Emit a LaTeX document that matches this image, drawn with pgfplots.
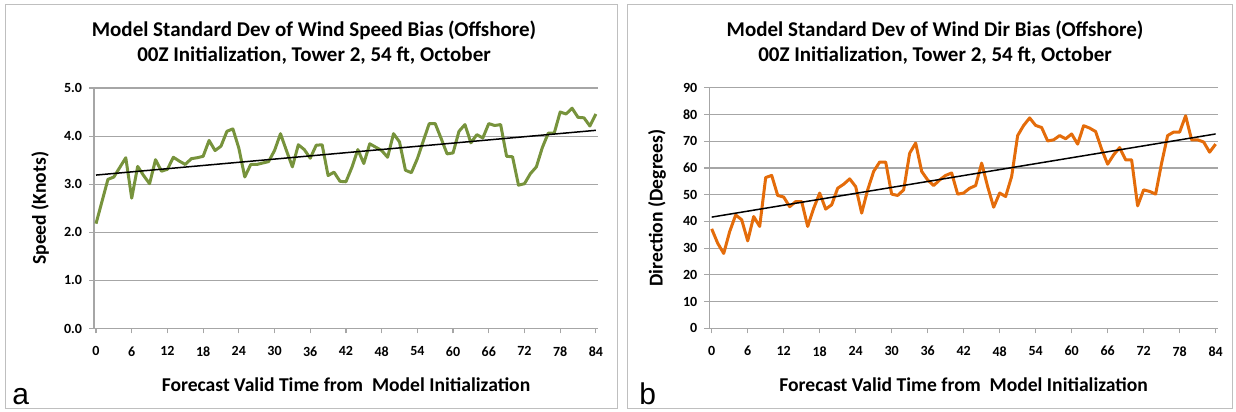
\documentclass[border=0pt]{standalone}
\usepackage{pgfplots}
\pgfplotsset{compat=1.18}
\usepackage{pgfplotstable}
\usepackage{fontspec}
\setmainfont{Carlito}
\newfontfamily\arialfont{Liberation Sans}
\definecolor{olivec}{HTML}{77933C}
\definecolor{orngc}{HTML}{E46C0A}
\definecolor{gridc}{HTML}{A6A6A6}
\definecolor{framec}{HTML}{BFBFBF}

\pgfplotstableread{
h v
0 2.18
1 2.64
2 3.10
3 3.15
4 3.35
5 3.55
6 2.71
7 3.37
8 3.18
9 3.01
10 3.51
11 3.27
12 3.31
13 3.56
14 3.48
15 3.41
16 3.53
17 3.55
18 3.58
19 3.91
20 3.70
21 3.79
22 4.10
23 4.15
24 3.75
25 3.15
26 3.41
27 3.41
28 3.44
29 3.47
30 3.70
31 4.05
32 3.70
33 3.36
34 3.82
35 3.72
36 3.54
37 3.81
38 3.82
39 3.18
40 3.25
41 3.06
42 3.05
43 3.35
44 3.72
45 3.43
46 3.84
47 3.77
48 3.70
49 3.56
50 4.05
51 3.88
52 3.29
53 3.24
54 3.53
55 3.90
56 4.26
57 4.26
58 3.95
59 3.63
60 3.65
61 4.10
62 4.24
63 3.86
64 4.03
65 3.96
66 4.26
67 4.22
68 4.24
69 3.58
70 3.57
71 2.98
72 3.01
73 3.22
74 3.36
75 3.76
76 4.06
77 4.06
78 4.50
79 4.46
80 4.58
81 4.39
82 4.38
83 4.21
84 4.46
}\speedtable

\pgfplotstableread{
h v
0 37.2
1 31.8
2 28.0
3 36.2
4 42.4
5 40.6
6 32.7
7 41.8
8 38.1
9 56.4
10 57.2
11 49.7
12 49.1
13 45.5
14 47.4
15 47.4
16 38.1
17 44.9
18 50.6
19 44.6
20 46.2
21 52.4
22 53.9
23 55.9
24 53.0
25 43.1
26 51.8
27 58.7
28 62.2
29 62.2
30 50.2
31 49.7
32 51.8
33 65.5
34 69.3
35 58.7
36 55.5
37 53.4
38 55.5
39 57.2
40 58.1
41 50.2
42 50.6
43 52.4
44 53.4
45 61.8
46 53.0
47 45.3
48 50.6
49 49.3
50 56.8
51 72.1
52 75.9
53 78.7
54 75.9
55 75.1
56 70.1
57 70.5
58 72.1
59 70.9
60 72.7
61 68.9
62 75.8
63 74.9
64 73.6
65 67.0
66 61.4
67 64.9
68 67.6
69 63.0
70 63.0
71 45.8
72 51.8
73 51.2
74 50.2
75 61.8
76 72.1
77 73.4
78 73.4
79 79.5
80 70.5
81 70.5
82 69.7
83 65.9
84 68.9
}\dirtable

\pgfplotsset{
  excelax/.style={
    scale only axis,
    axis lines=left,
    axis line style={gridc, line width=0.6pt, -},
    ymajorgrids,
    grid style={gridc, line width=0.6pt},
    tick style={gridc, line width=0.6pt},
    tick align=outside,
    major tick length=2.5pt,
    xtick={0,6,...,84},
    ticklabel style={font=\bfseries\fontsize{7}{8}\selectfont},
    /pgf/number format/assume math mode=true,
    label style={font=\bfseries\fontsize{9.8}{11}\selectfont},
    xticklabel style={yshift=-3pt},
    clip=false,
  }
}

\begin{document}
\begin{tikzpicture}[x=0.5pt,y=0.5pt]
\path[use as bounding box] (0,0) rectangle (1236,412);
\draw[framec, line width=0.5pt] (5,3) rectangle (617,407);
\draw[framec, line width=0.5pt] (627,3) rectangle (1232,407);

% Panel a
\begin{axis}[excelax,
  at={(47pt,41.75pt)}, anchor=south west,
  width=252pt, height=120.25pt,
  xmin=-0.34, xmax=84.36,
  ymin=0, ymax=5, ytick={0,1,...,5},
  yticklabel style={/pgf/number format/fixed, /pgf/number format/fixed zerofill, /pgf/number format/precision=1},
  xlabel={Forecast Valid Time from\ \ Model Initialization},
  ylabel={Speed (Knots)},
  xlabel style={at={(axis description cs:0.5,-0.235)}, anchor=center},
  ylabel style={at={(axis description cs:-0.107,0.5)}, anchor=center},
]
\addplot[olivec, line width=1.5pt, line join=round] table[x=h, y=v] {\speedtable};
\addplot[black, line width=0.75pt] coordinates {(0,3.19) (84,4.12)};
\end{axis}

% Panel b
\begin{axis}[excelax,
  at={(354.65pt,41.85pt)}, anchor=south west,
  width=254.35pt, height=120.3pt,
  xmin=-0.4, xmax=84.4,
  ymin=0, ymax=90, ytick={0,10,...,90},
  xlabel={Forecast Valid Time from\ \ Model Initialization},
  ylabel={Direction (Degrees)},
  xlabel style={at={(axis description cs:0.5,-0.235)}, anchor=center},
  ylabel style={at={(axis description cs:-0.103,0.5)}, anchor=center},
]
\addplot[orngc, line width=1.5pt, line join=round] table[x=h, y=v] {\dirtable};
\addplot[black, line width=0.75pt] coordinates {(0,41.6) (84,72.7)};
\end{axis}

% Titles
\node[font=\bfseries\fontsize{10.5}{12}\selectfont] at (314,382) {Model Standard Dev of Wind Speed Bias (Offshore)};
\node[font=\bfseries\fontsize{10.5}{12}\selectfont] at (314,356) {00Z Initialization, Tower 2, 54 ft, October};
\node[font=\bfseries\fontsize{10.5}{12}\selectfont] at (935,382) {Model Standard Dev of Wind Dir Bias (Offshore)};
\node[font=\bfseries\fontsize{10.5}{12}\selectfont] at (935,356) {00Z Initialization, Tower 2, 54 ft, October};

% Panel letters
\node[font=\arialfont\fontsize{15}{16}\selectfont, anchor=base west, inner sep=0pt] at (12,8) {a};
\node[font=\arialfont\fontsize{15}{16}\selectfont, anchor=base west, inner sep=0pt] at (639,8) {b};
\end{tikzpicture}
\end{document}
